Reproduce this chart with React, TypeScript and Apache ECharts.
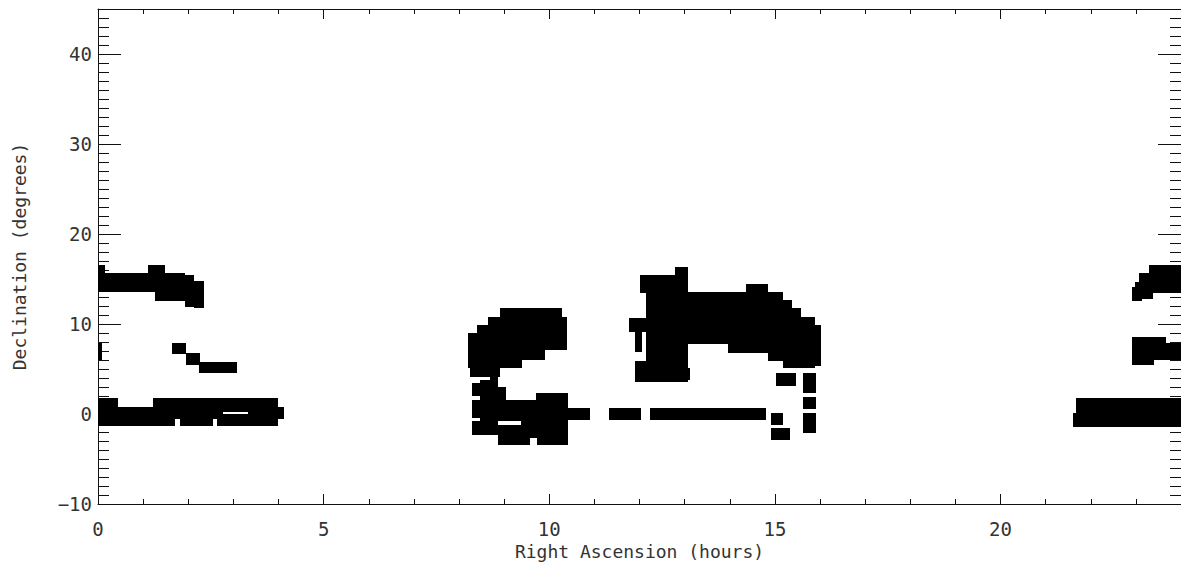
import React, { useEffect, useRef } from "react";
import * as echarts from "echarts";

// Survey fields as [raStart, raEnd, decStart, decEnd] (hours, degrees)
const fieldsEarlyRA: number[][] = [
  [0.0, 1.37, 13.56, 15.67],
  [0.0, 0.16, 15.67, 16.56],
  [1.11, 1.48, 13.56, 16.56],
  [1.26, 1.93, 12.56, 15.67],
  [1.93, 2.13, 11.89, 15.44],
  [2.13, 2.35, 11.78, 14.78],
  [1.63, 1.96, 6.67, 7.85],
  [1.95, 2.26, 5.44, 6.74],
  [2.24, 3.08, 4.52, 5.81],
  [0.0, 0.08, 6.0, 7.9],
];

const fieldsEquatorEarly: number[][] = [
  [0.0, 0.44, -1.33, 1.74],
  [0.44, 1.22, -1.33, 0.83],
  [1.22, 1.705, -1.33, 1.74],
  [1.705, 1.815, -0.5, 1.74],
  [1.815, 2.54, -1.33, 1.74],
  [2.54, 2.63, -0.5, 1.74],
  [2.63, 2.77, -1.33, 1.74],
  [2.77, 3.33, 0.26, 1.74],
  [2.77, 3.33, -1.33, 0.03],
  [3.33, 3.99, -1.33, 1.74],
  [3.99, 4.12, -0.5, 0.83],
];

const fieldsNineHours: number[][] = [
  [8.9, 10.28, 7.48, 11.74],
  [8.64, 10.39, 7.48, 10.81],
  [8.39, 10.39, 7.11, 9.89],
  [8.2, 9.9, 6.0, 8.97],
  [8.2, 9.39, 5.08, 7.48],
  [8.24, 8.9, 4.14, 7.48],
  [8.46, 8.68, -2.33, 3.78],
  [8.28, 8.46, 2.0, 3.44],
  [8.28, 8.46, -0.44, 1.56],
  [8.28, 8.46, -2.33, -0.83],
  [8.68, 8.87, -2.33, 4.14],
  [8.87, 9.05, -0.78, 3.03],
  [9.01, 9.83, -0.78, 1.56],
  [9.71, 10.42, -1.22, 2.37],
  [10.42, 10.9, -0.72, 0.63],
  [8.87, 9.57, -3.44, -1.22],
  [9.57, 9.72, -2.67, -0.78],
  [9.72, 10.42, -3.44, -0.78],
  [9.38, 9.72, -1.33, -0.67],
];

const fieldsEquatorMid: number[][] = [
  [11.32, 12.04, -0.72, 0.63],
  [12.23, 14.81, -0.72, 0.63],
];

const fieldsThirteenHours: number[][] = [
  [12.78, 13.07, 14.89, 16.37],
  [12.0, 13.0, 13.41, 15.44],
  [12.15, 13.07, 7.67, 15.44],
  [11.77, 12.15, 9.14, 10.63],
  [11.89, 12.05, 6.89, 10.67],
  [12.15, 13.07, 5.78, 10.67],
  [11.89, 13.07, 3.56, 5.89],
  [13.0, 13.13, 3.78, 5.11],
  [12.96, 13.96, 7.78, 13.59],
  [13.96, 14.37, 6.78, 13.59],
  [14.37, 14.84, 6.78, 14.44],
  [14.84, 15.17, 5.89, 13.59],
  [15.17, 15.39, 5.11, 12.67],
  [15.39, 15.59, 5.11, 11.74],
  [15.59, 15.9, 5.11, 10.78],
  [15.9, 16.03, 5.33, 9.89],
  [15.03, 15.47, 3.11, 4.52],
  [15.62, 15.92, 2.3, 4.52],
  [15.62, 15.92, 0.52, 1.92],
  [15.62, 15.92, -2.14, 0.14],
  [14.92, 15.17, -1.22, 0.11],
  [14.92, 15.34, -2.94, -1.59],
];

const fieldsLateRA: number[][] = [
  [23.3, 24.0, 13.41, 16.56],
  [23.08, 23.37, 12.74, 15.63],
  [22.97, 23.14, 12.56, 14.7],
  [22.92, 23.01, 12.56, 14.11],
  [22.92, 23.67, 6.0, 8.59],
  [22.92, 23.41, 5.44, 8.59],
  [23.41, 24.0, 6.0, 7.86],
  [21.68, 24.0, -1.41, 1.74],
  [21.6, 21.75, -1.41, 0.11],
];

const raTicks = { min: 0, max: 24, interval: 5 };
const decTicks = { min: -10, max: 45, interval: 10 };

const FONT = "'DejaVu Sans Mono', monospace";
const TEXT_COLOR = "#333";

export default function App() {
  const ref = useRef<HTMLDivElement>(null);

  useEffect(() => {
    if (!ref.current) return;
    const chart = echarts.init(ref.current, null, { renderer: "svg" });
    const data = [
      ...fieldsEarlyRA,
      ...fieldsEquatorEarly,
      ...fieldsNineHours,
      ...fieldsEquatorMid,
      ...fieldsThirteenHours,
      ...fieldsLateRA,
    ];
    const fmt = (v: number) => (v < 0 ? "\u2212" + Math.abs(v) : String(v));
    const lineStyle = { color: "#111", width: 1 };
    const xCommon = {
      type: "value" as const,
      min: raTicks.min,
      max: raTicks.max,
      interval: raTicks.interval,
      splitLine: { show: false },
      axisLine: { show: true, onZero: false, lineStyle },
      axisTick: { show: true, inside: true, length: 10, lineStyle },
      minorTick: { show: true, splitNumber: 5, length: 5, lineStyle },
      minorSplitLine: { show: false },
    };
    const yCommon = {
      type: "value" as const,
      min: decTicks.min,
      max: decTicks.max,
      interval: decTicks.interval,
      splitLine: { show: false },
      axisLine: { show: true, onZero: false, lineStyle },
      axisTick: { show: true, inside: true, length: 23, lineStyle },
      minorTick: { show: true, splitNumber: 10, length: 11, lineStyle },
      minorSplitLine: { show: false },
    };
    chart.setOption({
      animation: false,
      backgroundColor: "#fff",
      grid: { left: 98, top: 9, width: 1084, height: 495, containLabel: false },
      xAxis: [
        {
          ...xCommon,
          position: "bottom",
          axisLabel: {
            show: true,
            fontFamily: FONT,
            fontSize: 19,
            color: TEXT_COLOR,
            margin: 15,
            showMaxLabel: false,
            formatter: fmt,
          },
          name: "Right Ascension (hours)",
          nameLocation: "middle",
          nameGap: 35,
          nameTextStyle: { fontFamily: FONT, fontSize: 18, color: TEXT_COLOR },
        },
        {
          ...xCommon,
          position: "top",
          axisLabel: { show: false },
        },
      ],
      yAxis: [
        {
          ...yCommon,
          position: "left",
          axisLabel: {
            show: true,
            fontFamily: FONT,
            fontSize: 19,
            color: TEXT_COLOR,
            margin: 6,
            showMaxLabel: false,
            formatter: fmt,
          },
          name: "Declination (degrees)",
          nameLocation: "middle",
          nameGap: 70,
          nameTextStyle: { fontFamily: FONT, fontSize: 18, color: TEXT_COLOR },
        },
        {
          ...yCommon,
          position: "right",
          axisLabel: { show: false },
        },
      ],
      series: [
        {
          type: "custom",
          xAxisIndex: 0,
          yAxisIndex: 0,
          clip: true,
          encode: { x: [0, 1], y: [2, 3] },
          data,
          renderItem: (params: any, api: any) => {
            const p0 = api.coord([api.value(0), api.value(3)]);
            const p1 = api.coord([api.value(1), api.value(2)]);
            const x0 = Math.round(p0[0]);
            const y0 = Math.round(p0[1]);
            const x1 = Math.round(p1[0]);
            const y1 = Math.round(p1[1]);
            return {
              type: "rect",
              shape: { x: x0, y: y0, width: x1 - x0, height: y1 - y0 },
              style: { fill: "#000", stroke: "none" },
            };
          },
        },
      ],
    });
    return () => chart.dispose();
  }, []);

  return (
    <div
      ref={ref}
      style={{ position: "absolute", left: 0, top: 0, width: 1181, height: 573, background: "#fff" }}
    />
  );
}
